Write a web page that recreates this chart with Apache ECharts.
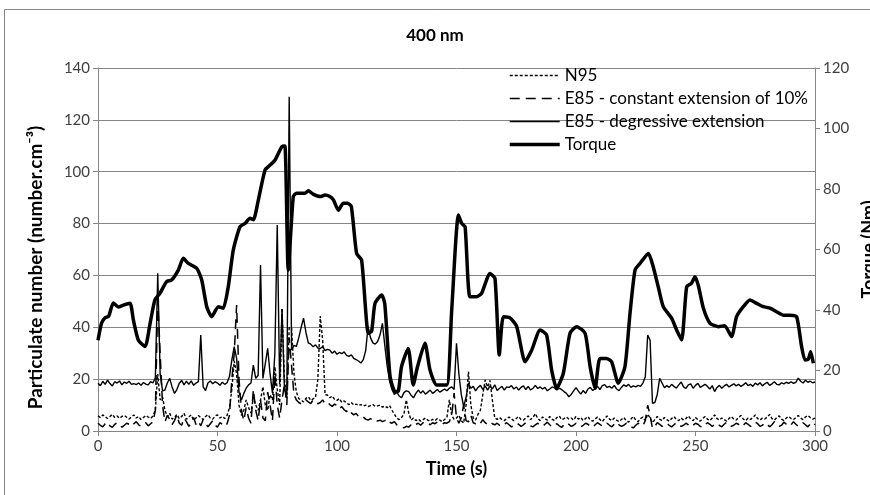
<!DOCTYPE html>
<html><head><meta charset="utf-8">
<script src="https://cdn.jsdelivr.net/npm/echarts@6/dist/echarts.min.js"></script>
<style>html,body{margin:0;padding:0;background:#fff}#c{width:870px;height:495px}</style>
</head><body><div id="c"></div>
<script>
// Time step of particle series: 1 s, starting at 0 s (index = seconds)
const timeStart = 0;
const timeStep = 1;
const xTicks = [0, 50, 100, 150, 200, 250, 300];
const leftTicks = [0, 20, 40, 60, 80, 100, 120, 140];
const rightTicks = [0, 20, 40, 60, 80, 100, 120];

const seriesNames = ['N95', 'E85 - constant extension of 10%', 'E85 - degressive extension', 'Torque'];

const n95 = [
5.8,5.2,6.2,5.5,4.8,5.6,6.4,5.2,5.8,4.9,
5.6,6.0,5.3,4.6,5.4,6.2,5.0,5.6,4.4,5.2,
6.0,5.4,4.8,5.8,8.0,22.0,12.0,13.2,8.0,5.5,
6.8,4.6,5.2,6.4,4.8,5.6,6.8,4.5,5.5,6.2,
4.2,5.0,6.0,5.2,4.4,5.6,6.3,5.0,4.6,5.8,
6.2,5.0,5.6,4.8,6.0,9.0,16.0,27.0,22.0,10.0,
6.0,8.0,12.0,9.0,7.0,13.0,10.0,8.0,12.0,17.0,
10.0,8.0,14.0,12.0,24.8,16.0,10.0,47.3,20.0,13.0,
40.0,39.6,22.0,15.0,12.5,12.0,11.2,12.6,13.2,11.8,
12.4,13.0,20.0,44.3,35.0,14.0,13.9,12.8,13.5,12.2,
11.8,12.5,11.0,11.6,10.8,10.2,11.0,10.0,10.4,9.8,
10.2,9.6,10.0,9.4,9.8,10.2,9.5,9.7,10.0,9.2,
9.6,9.0,9.8,8.0,6.5,5.0,4.4,5.2,6.5,12.0,
7.0,4.2,5.0,4.0,4.6,3.8,4.4,5.0,4.2,3.8,
4.5,4.0,4.8,4.2,3.6,4.4,5.2,12.0,6.0,4.5,
5.0,6.0,4.0,3.0,10.0,22.9,10.0,5.0,4.2,6.5,
8.0,14.0,19.7,17.0,19.5,12.0,5.0,4.5,5.2,4.4,
4.0,4.8,5.4,4.6,4.0,4.8,5.6,4.4,4.2,5.0,
5.8,4.4,5.2,6.7,4.8,4.0,5.4,4.8,4.2,5.6,
4.6,4.0,5.2,5.8,4.4,4.8,5.4,4.6,5.0,4.2,
5.6,4.6,5.2,4.0,4.8,5.6,4.2,3.8,4.6,5.4,
4.4,3.6,4.8,5.8,4.6,4.0,5.0,4.2,3.6,4.4,
5.2,4.0,3.4,4.6,5.6,4.2,3.6,4.8,5.4,4.0,
6.5,5.0,3.2,4.4,5.6,4.6,4.0,5.2,4.4,3.8,
4.8,5.6,4.4,4.0,5.0,4.2,4.8,5.8,4.6,4.0,
5.2,4.4,3.8,4.8,5.6,4.6,4.0,5.0,6.2,4.8,
4.2,5.0,4.4,3.8,4.8,5.6,4.6,4.2,5.2,6.0,
4.6,4.0,5.0,4.4,5.2,6.2,4.8,4.2,5.0,4.6,
5.4,6.4,4.8,4.2,5.2,5.8,4.6,4.0,5.0,5.6,
4.8,4.4,5.2,6.0,5.0,4.4,5.4,6.0,5.2,4.6,
5.0
];

const e85Constant = [
3.0,2.2,1.6,2.8,3.4,2.0,1.4,2.6,3.2,2.4,
1.5,2.2,3.0,2.6,1.8,2.8,3.6,2.4,1.8,2.6,
3.2,2.0,2.8,3.5,8.0,50.5,30.0,10.0,3.5,6.0,
4.5,2.5,4.0,6.2,3.0,2.2,5.0,3.6,1.8,3.0,
5.2,2.5,3.8,2.0,4.4,3.0,1.6,2.8,4.0,2.2,
1.5,3.2,2.6,1.8,2.8,6.0,20.0,30.0,48.6,20.0,
8.0,4.0,9.0,5.0,3.0,16.0,8.0,4.0,12.0,5.0,
4.0,15.0,10.0,4.0,22.0,10.0,5.0,12.0,18.0,10.0,
36.0,25.0,14.0,12.0,11.0,10.5,11.5,12.0,11.2,10.6,
12.0,11.4,10.5,11.0,12.0,10.5,11.0,10.2,9.5,10.4,
9.8,8.6,9.4,8.2,7.5,8.4,7.0,6.2,6.8,5.6,
5.0,5.4,4.6,4.2,4.8,4.0,4.4,3.8,4.2,3.6,
4.0,4.6,3.4,3.0,3.6,2.4,2.0,1.6,1.2,1.8,
1.5,2.4,1.8,2.6,3.0,2.2,3.2,2.6,3.0,2.4,
3.2,2.8,3.4,3.0,2.6,3.2,3.0,3.6,6.0,14.6,
5.0,3.0,5.0,10.0,4.0,3.5,6.0,3.2,2.8,3.6,
3.0,4.4,3.2,2.6,3.4,2.8,2.4,3.0,2.2,1.8,
2.6,3.2,2.4,1.6,2.2,3.0,2.6,1.8,2.4,3.2,
2.8,2.0,1.6,2.4,3.0,2.2,1.8,2.6,3.4,2.4,
1.6,2.2,2.8,2.0,1.4,2.4,3.2,2.6,1.8,2.2,
3.0,2.4,1.6,2.2,3.0,2.6,1.8,1.4,2.4,3.2,
2.6,1.8,2.4,3.0,2.2,1.6,2.6,3.4,2.4,1.8,
2.2,3.0,2.6,1.6,1.2,2.2,3.0,2.4,2.0,4.0,
10.0,6.0,1.0,1.8,3.2,2.6,1.8,2.4,3.0,2.2,
1.6,2.4,3.2,2.6,1.8,2.2,3.0,2.4,1.6,2.2,
3.0,2.6,1.8,1.4,2.4,3.2,2.6,1.8,2.4,3.0,
2.2,1.6,2.6,3.4,2.4,1.8,2.2,3.0,2.6,1.6,
2.2,3.2,2.6,1.8,2.4,3.4,2.8,1.8,2.2,3.2,
2.6,1.6,2.4,3.6,2.8,1.8,2.2,3.4,2.6,1.8,
2.4,3.6,2.6,1.8,2.2,3.2,2.4,1.6,2.6,3.4,
2.4
];

const e85Degressive = [
18.4,17.5,19.2,18.0,19.6,18.3,17.4,19.0,18.5,19.3,
17.8,18.9,18.4,19.2,18.0,18.3,17.9,18.5,17.6,18.7,
18.1,17.8,19.0,18.6,20.5,60.8,22.0,15.5,15.8,18.5,
20.3,17.0,14.5,16.0,18.4,19.5,17.8,19.2,18.0,19.3,
17.6,18.5,19.0,37.0,17.0,15.6,18.5,19.3,18.2,19.0,
18.5,17.6,18.8,18.0,18.6,21.0,27.4,32.5,28.0,15.0,
12.0,14.5,16.5,17.8,18.5,25.4,20.3,21.5,64.0,20.3,
26.0,31.9,22.0,14.6,30.0,79.4,18.0,47.0,16.0,14.0,
128.9,31.2,33.0,32.6,36.0,40.0,43.5,38.0,34.0,33.5,
32.5,33.2,32.0,31.8,32.6,31.0,31.5,31.2,30.0,30.8,
29.6,30.3,29.8,30.5,29.2,28.8,29.4,28.0,27.5,27.0,
26.2,27.5,31.0,40.2,36.0,34.0,33.5,34.5,37.0,41.5,
33.0,25.0,19.3,16.0,14.1,15.0,13.5,12.8,14.8,15.5,
15.2,13.8,12.8,14.5,15.8,14.6,15.5,14.2,15.0,15.8,
14.5,15.2,16.0,15.0,15.6,16.2,15.5,16.5,17.0,16.0,
33.8,22.0,14.1,9.4,13.0,18.4,16.5,17.2,15.5,16.8,
17.6,16.0,17.4,15.8,17.4,16.2,17.8,15.6,16.5,17.2,
15.8,17.0,16.8,17.5,16.2,17.0,15.8,16.8,17.4,16.0,
17.2,15.8,16.5,17.6,16.4,17.0,16.2,16.8,15.5,16.2,
17.0,16.6,15.8,16.5,16.0,15.2,14.5,13.2,14.1,15.5,
16.7,15.4,14.2,15.6,14.5,16.2,16.8,15.6,16.4,17.2,
16.0,17.5,17.9,16.8,17.2,16.5,17.6,16.2,15.6,16.8,
17.8,17.2,18.0,16.8,17.4,17.0,17.6,17.2,18.5,20.9,
37.0,35.0,10.7,11.0,14.1,20.3,18.5,16.7,17.5,16.8,
18.0,17.2,16.5,17.8,18.9,17.0,16.4,17.8,18.2,16.5,
17.6,18.4,16.8,17.4,18.0,17.2,16.2,17.5,15.2,16.8,
17.6,16.5,17.4,18.0,17.0,17.6,18.2,17.4,18.0,17.2,
17.8,18.6,17.5,18.0,17.2,18.5,17.8,18.6,17.4,18.2,
18.8,17.6,18.2,19.0,18.0,17.8,18.6,18.2,18.8,18.4,
19.0,18.4,18.8,20.4,19.2,18.5,19.6,18.8,19.2,18.6,
18.9
];

const torqueTime = [0,1.5,3,4.5,6.4,8.5,10.6,13.4,14.8,16.9,19.7,21.8,23.8,25.9,28.7,30.8,33.6,35.7,37.8,41.3,43.4,45.5,47.6,50.3,52.4,54.5,56.6,59.4,61.5,63.6,65,67.1,69.9,72,74.1,76.9,78.2,79.6,81.7,83.1,86.6,88,90,93,95,97,98.5,100.6,102.6,104.4,106,108.2,110.3,113.1,114.5,115.9,118.7,120,122.2,124.3,125.7,127,129.8,131.9,133.7,136.8,138.9,141.7,145.9,148,150.8,152.2,153.6,155.6,158.4,160.5,164,166.1,167.9,169.6,172.4,175.2,178.7,181.5,185,187.7,189.8,191.9,194.7,197.5,200.3,203.8,205.9,208,210,212.8,214.9,217.7,220.5,222.6,224.7,226.8,230.3,232.3,234.4,236.5,240,242.1,244.2,246.3,248.3,249.8,251.2,253.3,256.1,259.6,262.2,265.1,267.2,270,272.8,275.6,278.4,281.2,283.9,286.7,289.5,292.3,294.4,295.8,297.2,298.2,299.3];
const torqueValues = [30,35.7,37.4,38,42.3,41,41.6,42.2,36.7,30,27.9,35.6,43.3,45.5,49.4,49.9,53.2,57.1,55.4,53.8,49.9,41.1,37.8,41.1,40.6,47.7,59.8,67.5,68.6,70.3,69.8,76.4,86.3,87.9,89.6,94,94.2,53.2,77.5,78.6,78.6,79.4,78.3,77.5,78,77.5,76.4,73,75.3,75.3,74.2,58.7,56.5,32.3,33,42.2,45,42,18,13,13.3,21.3,27.3,15.2,21.3,29,20.2,15.2,15.2,40,71.4,68.6,67.5,44.4,44.4,45.5,52.1,50.4,25.1,37.8,37.4,34.5,22.9,26.8,33.4,31.7,20.2,14.1,19.1,32.3,34.5,32.3,21.3,14.1,24,24,22.9,15.8,21.3,38.9,53.2,55.4,58.7,54.3,47.7,41.1,37.3,33.4,30.1,47.7,48.8,51,48,40.6,35.6,34.5,34.8,31.2,37.8,41.1,43.3,42.2,41.1,40.6,39.4,38.3,38.3,37.8,27.9,23.5,23.7,26.2,22.4];

const pairs = arr => arr.map((v, i) => [timeStart + i * timeStep, v]);
const torquePairs = torqueTime.map((t, i) => [t, torqueValues[i]]);

const FONT = 'Lato, "Open Sans", "DejaVu Sans", sans-serif';
const AX = '#868686';
const lineStyles = [
  {color: '#000', width: 1.4, type: [3, 2]},
  {color: '#000', width: 1.5, type: [10, 6]},
  {color: '#000', width: 1.4, type: 'solid'},
  {color: '#000', width: 3.5, type: 'solid'}
];
const chart = echarts.init(document.getElementById('c'), null, {renderer: 'canvas'});
chart.setOption({
  animation: false,
  backgroundColor: '#fff',
  textStyle: {fontFamily: FONT},
  graphic: [{type: 'rect', shape: {x: 4.5, y: 9.5, width: 900, height: 520}, style: {fill: 'none', stroke: AX, lineWidth: 1}, silent: true}],
  title: {text: '400 nm', left: 'center', top: 22, textStyle: {fontFamily: FONT, fontWeight: 'bold', fontSize: 17, color: '#000'}},
  legend: {
    data: seriesNames.map((n, i) => ({name: n, itemStyle: {opacity: 0}, lineStyle: lineStyles[i]})),
    orient: 'vertical', left: 503, top: 62,
    itemWidth: 50, itemHeight: 14, itemGap: 6,
    itemStyle: {opacity: 0},
    textStyle: {fontFamily: FONT, fontSize: 17, color: '#000'}
  },
  grid: {left: 98, right: 55, top: 68, bottom: 64, outerBoundsMode: 'none', containLabel: false},
  xAxis: {
    type: 'value', min: xTicks[0], max: xTicks[xTicks.length - 1], interval: xTicks[1] - xTicks[0],
    axisLine: {lineStyle: {color: AX}}, axisTick: {show: true, length: 5, lineStyle: {color: AX}},
    splitLine: {show: false},
    axisLabel: {color: '#404040', fontSize: 15, margin: 8, fontFamily: FONT},
    name: 'Time (s)', nameLocation: 'middle', nameGap: 29, nameMoveOverlap: false,
    nameTextStyle: {fontWeight: 'bold', fontSize: 18, color: '#000', fontFamily: FONT}
  },
  yAxis: [{
    type: 'value', min: leftTicks[0], max: leftTicks[leftTicks.length - 1], interval: leftTicks[1] - leftTicks[0],
    axisLine: {show: true, lineStyle: {color: AX}}, axisTick: {show: true, length: 5, lineStyle: {color: AX}},
    splitLine: {show: true, lineStyle: {color: AX, width: 1}},
    axisLabel: {color: '#404040', fontSize: 15, margin: 8, fontFamily: FONT},
    name: 'Particulate number (number.cm⁻³)', nameLocation: 'middle', nameGap: 53, nameRotate: 90, nameMoveOverlap: false,
    nameTextStyle: {fontWeight: 'bold', fontSize: 19, color: '#000', fontFamily: FONT, padding: [0, 36, 0, 0]}
  }, {
    type: 'value', position: 'right', min: rightTicks[0], max: rightTicks[rightTicks.length - 1], interval: rightTicks[1] - rightTicks[0],
    axisLine: {show: true, lineStyle: {color: AX}}, axisTick: {show: true, length: 5, lineStyle: {color: AX}},
    splitLine: {show: false},
    axisLabel: {color: '#404040', fontSize: 15, margin: 8, fontFamily: FONT},
    name: 'Torque (Nm)', nameLocation: 'middle', nameGap: 45, nameRotate: 90, nameMoveOverlap: false,
    nameTextStyle: {fontWeight: 'bold', fontSize: 18, color: '#000', fontFamily: FONT}
  }],
  series: seriesNames.map((n, i) => ({
    name: n, type: 'line', yAxisIndex: i === 3 ? 1 : 0, symbol: 'none',
    data: i === 0 ? pairs(n95) : i === 1 ? pairs(e85Constant) : i === 2 ? pairs(e85Degressive) : torquePairs,
    smooth: i === 3 ? 0.2 : false,
    lineStyle: lineStyles[i], itemStyle: {color: '#000'}
  }))
});
</script></body></html>
